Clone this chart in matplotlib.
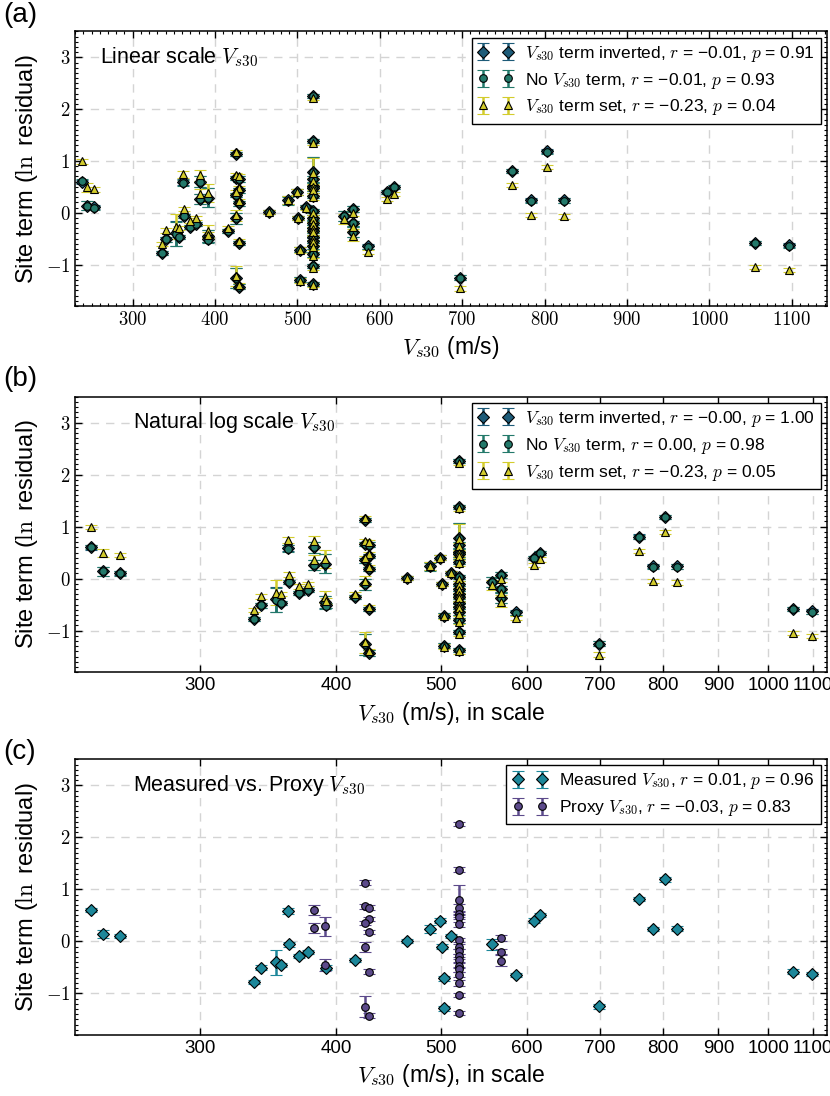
import matplotlib
matplotlib.use("Agg")
import matplotlib.pyplot as plt
from matplotlib.ticker import FixedLocator, FuncFormatter, MultipleLocator, NullLocator

plt.rcParams["font.family"] = ["Liberation Sans", "DejaVu Sans"]
plt.rcParams["mathtext.fontset"] = "cm"
plt.rcParams["axes.unicode_minus"] = True

# --- data ------------------------------------------------------------------
vs30 = [238, 244, 253, 336, 341, 352, 356, 361, 362, 370, 377,
        382, 382, 391, 391, 392, 416,
        425, 425, 429, 429, 425, 429, 425, 429, 425, 429,
        465, 488, 499, 501, 503, 503, 510,
        519, 519, 519, 519, 519, 519, 519, 519, 519, 519, 519, 519, 519, 519, 519, 519, 519, 519,
        557, 567, 567, 567, 586, 609, 617, 698, 761, 784, 803, 824, 1055, 1097]

st_inverted = [0.60, 0.14, 0.11, -0.78, -0.51, -0.40, -0.46, 0.59, -0.06, -0.28, -0.21,
               0.60, 0.26, 0.29, -0.45, -0.51, -0.36,
               1.13, 0.67, 0.65, 0.43, 0.35, 0.18, -0.11, -0.58, -1.26, -1.43,
               0.01, 0.24, 0.40, -0.10, -0.71, -1.29, 0.11,
               2.26, 1.38, 0.79, 0.65, 0.52, 0.47, 0.33, 0.03, -0.10, -0.19, -0.29, -0.35,
               -0.47, -0.54, -0.64, -0.80, -1.03, -1.37,
               -0.06, 0.07, -0.20, -0.37, -0.65, 0.40, 0.50, -1.25, 0.81, 0.24, 1.19, 0.24, -0.58, -0.63]

st_noterm = [0.61, 0.14, 0.10, -0.78, -0.51, -0.41, -0.46, 0.58, -0.06, -0.28, -0.21,
             0.60, 0.26, 0.29, -0.46, -0.52, -0.36,
             1.13, 0.67, 0.65, 0.43, 0.35, 0.18, -0.11, -0.58, -1.26, -1.43,
             0.01, 0.23, 0.40, -0.10, -0.71, -1.29, 0.11,
             2.26, 1.38, 0.79, 0.65, 0.52, 0.47, 0.33, 0.03, -0.10, -0.19, -0.29, -0.35,
             -0.47, -0.54, -0.64, -0.80, -1.03, -1.37,
             -0.06, 0.07, -0.20, -0.37, -0.66, 0.40, 0.50, -1.25, 0.80, 0.23, 1.18, 0.23, -0.59, -0.64]

st_set = [0.99, 0.49, 0.45, -0.61, -0.34, -0.27, -0.30, 0.74, 0.08, -0.15, -0.10,
          0.72, 0.36, 0.38, -0.35, -0.43, -0.30,
          1.17, 0.72, 0.70, 0.48, 0.40, 0.22, -0.05, -0.55, -1.22, -1.40,
          0.02, 0.24, 0.40, -0.10, -0.72, -1.31, 0.10,
          2.22, 1.35, 0.76, 0.62, 0.49, 0.44, 0.30, 0.00, -0.13, -0.22, -0.32, -0.38,
          -0.50, -0.57, -0.67, -0.83, -1.06, -1.40,
          -0.12, 0.00, -0.27, -0.45, -0.76, 0.27, 0.37, -1.46, 0.53, -0.04, 0.89, -0.07, -1.04, -1.11]

st_err = [0.04, 0.08, 0.04, 0.04, 0.05, 0.24, 0.04, 0.06, 0.04, 0.04, 0.04,
          0.10, 0.10, 0.18, 0.12, 0.05, 0.04,
          0.04, 0.04, 0.05, 0.04, 0.04, 0.04, 0.10, 0.04, 0.20, 0.05,
          0.04, 0.08, 0.05, 0.04, 0.05, 0.05, 0.04,
          0.04, 0.04, 0.29, 0.06, 0.05, 0.05, 0.05, 0.04, 0.05, 0.05, 0.05, 0.05,
          0.05, 0.05, 0.05, 0.05, 0.04, 0.04,
          0.10, 0.06, 0.05, 0.10, 0.04, 0.04, 0.04, 0.05, 0.04, 0.04, 0.04, 0.05, 0.04, 0.04]

is_proxy = ([0] * 11 + [1, 1, 1, 1, 0, 0] + [1] * 10 + [0] * 7 + [1] * 18
            + [0, 1, 1, 1, 0, 0, 0, 0, 0, 0, 0, 0, 0, 0])

log_ticks = [300, 400, 500, 600, 700, 800, 900, 1000, 1100]

stats_linear = {"inverted": ("\u22120.01", "0.91"), "noterm": ("\u22120.01", "0.93"), "set": ("\u22120.23", "0.04")}
stats_log = {"inverted": ("\u22120.00", "1.00"), "noterm": ("0.00", "0.98"), "set": ("\u22120.23", "0.05")}
stats_source = {"measured": ("0.01", "0.96"), "proxy": ("\u22120.03", "0.83")}

C_INV = "#1d5b78"
C_NOTERM = "#23796a"
C_SET = "#d3cc2c"
C_MEAS = "#1c879a"
C_PROXY = "#5c4a8b"

VS = r"$V_{s30}$"


def _eb(ax, x, y, err, marker, ms, color, label):
    ax.errorbar(x, y, yerr=err, fmt=marker, ms=ms, mfc=color, mec="black", mew=0.8,
                ecolor=color, elinewidth=1.8, capsize=4, capthick=2.0, label=label)


def _style(ax, log_x, xlabel):
    ax.set_ylim(-1.8, 3.5)
    ax.yaxis.set_major_locator(MultipleLocator(1))
    ax.yaxis.set_minor_locator(MultipleLocator(0.1))
    ax.yaxis.set_major_formatter(FuncFormatter(lambda v, _: f"${v:g}$"))
    if log_x:
        ax.set_xscale("log")
        ax.set_xlim(230, 1133)
        ax.xaxis.set_major_locator(FixedLocator(log_ticks))
        ax.xaxis.set_major_formatter(FuncFormatter(lambda v, _: f"{v:g}"))
        ax.xaxis.set_minor_locator(NullLocator())
    else:
        ax.set_xlim(230, 1143)
        ax.xaxis.set_major_locator(MultipleLocator(100))
        ax.xaxis.set_minor_locator(MultipleLocator(10))
        ax.xaxis.set_major_formatter(FuncFormatter(lambda v, _: f"${v:g}$"))
    ax.tick_params(which="both", direction="in", top=True, right=True, labelsize=13.5)
    ax.tick_params(which="major", length=5, width=1)
    ax.tick_params(which="minor", length=2.5, width=0.8)
    ax.grid(True, which="major", color="#d4d4d4", linestyle=(0, (6, 5)), linewidth=1)
    ax.set_axisbelow(True)
    for s in ax.spines.values():
        s.set_linewidth(1.1)
    ax.set_xlabel(xlabel, fontsize=16.5)
    ax.set_ylabel(r"Site term ($\ln$ residual)", fontsize=17)


def _legend(ax):
    leg = ax.legend(loc="upper right", numpoints=2, fontsize=12.5, fancybox=False,
                    framealpha=1, edgecolor="black", borderaxespad=0.35,
                    handlelength=2.0, handletextpad=0.7, labelspacing=0.4, borderpad=0.35)
    leg.get_frame().set_linewidth(1.0)


def draw_model_panel(ax, log_x, stats, note, xlabel):
    _eb(ax, vs30, st_inverted, st_err, "D", 6, C_INV,
        f"{VS} term inverted, $r$ = {stats['inverted'][0]}, $p$ = {stats['inverted'][1]}")
    _eb(ax, vs30, st_noterm, st_err, "o", 5.5, C_NOTERM,
        f"No {VS} term, $r$ = {stats['noterm'][0]}, $p$ = {stats['noterm'][1]}")
    _eb(ax, vs30, st_set, st_err, "^", 6, C_SET,
        f"{VS} term set, $r$ = {stats['set'][0]}, $p$ = {stats['set'][1]}")
    ax.text(260, 3, note + " " + VS, fontsize=15.5, va="center", ha="left")
    _style(ax, log_x, xlabel)
    _legend(ax)


def draw_source_panel(ax):
    mx = [v for v, p in zip(vs30, is_proxy) if not p]
    my = [v for v, p in zip(st_inverted, is_proxy) if not p]
    me = [v for v, p in zip(st_err, is_proxy) if not p]
    px = [v for v, p in zip(vs30, is_proxy) if p]
    py = [v for v, p in zip(st_inverted, is_proxy) if p]
    pe = [v for v, p in zip(st_err, is_proxy) if p]
    _eb(ax, mx, my, me, "D", 6, C_MEAS,
        f"Measured {VS}, $r$ = {stats_source['measured'][0]}, $p$ = {stats_source['measured'][1]}")
    _eb(ax, px, py, pe, "o", 5.5, C_PROXY,
        f"Proxy {VS}, $r$ = {stats_source['proxy'][0]}, $p$ = {stats_source['proxy'][1]}")
    ax.text(260, 3, "Measured vs. Proxy " + VS, fontsize=15.5, va="center", ha="left")
    _style(ax, True, VS + " (m/s), in scale")
    _legend(ax)


fig = plt.figure(figsize=(8.3, 10.96), dpi=100)
ax_a = fig.add_axes([0.0904, 0.7208, 0.906, 0.2505])
ax_b = fig.add_axes([0.0904, 0.3866, 0.906, 0.2515])
ax_c = fig.add_axes([0.0904, 0.0557, 0.906, 0.2515])

draw_model_panel(ax_a, False, stats_linear, "Linear scale", VS + " (m/s)")
draw_model_panel(ax_b, True, stats_log, "Natural log scale", VS + " (m/s), in scale")
draw_source_panel(ax_c)

for lab, top in (("(a)", 2), ("(b)", 366), ("(c)", 739)):
    fig.text(0.004, 1 - top / 1096, lab, fontsize=20, va="top", ha="left")

fig.savefig("out.png", dpi=100)
